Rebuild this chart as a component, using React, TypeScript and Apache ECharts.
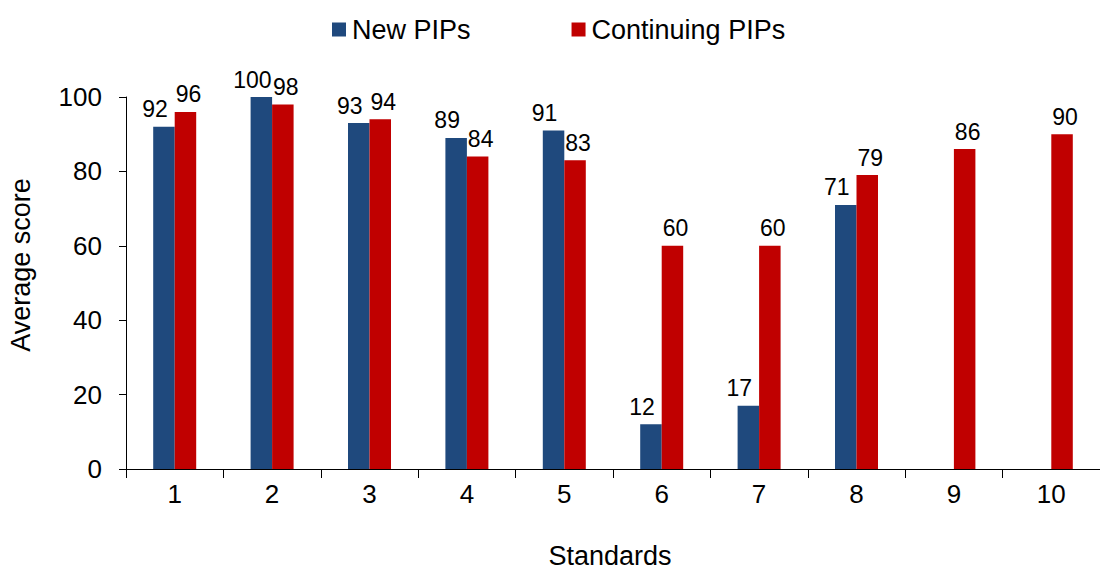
import React, { useEffect, useRef } from "react";
import * as echarts from "echarts";

const categories = ["1", "2", "3", "4", "5", "6", "7", "8", "9", "10"];
const newPIPs: (number | null)[] = [92, 100, 93, 89, 91, 12, 17, 71, null, null];
const continuingPIPs: number[] = [96, 98, 94, 84, 83, 60, 60, 79, 86, 90];
const yTicks = { min: 0, max: 100, interval: 20 };

const FONT = "'Liberation Sans', Arial, sans-serif";

export default function App() {
  const ref = useRef<HTMLDivElement>(null);
  useEffect(() => {
    if (!ref.current) return;
    const chart = echarts.init(ref.current, null, { renderer: "svg" });
    chart.setOption({
      animation: false,
      backgroundColor: "#ffffff",
      textStyle: { fontFamily: FONT },
      legend: {
        left: 327,
        top: 11,
        itemWidth: 14,
        itemHeight: 14,
        itemGap: 101,
        icon: "rect",
        textStyle: { fontSize: 27, color: "#000", fontFamily: FONT, padding: [0, 0, 0, 1] },
        data: ["New PIPs", "Continuing PIPs"],
      },
      grid: { left: 126, right: -8, top: 97, bottom: 103, containLabel: false },
      xAxis: {
        type: "category",
        data: categories,
        axisLine: { lineStyle: { color: "#000", width: 1 } },
        axisTick: { show: true, length: 9, lineStyle: { color: "#000" } },
        axisLabel: { fontSize: 26, color: "#000", margin: 12, fontFamily: FONT },
        splitLine: { show: false },
      },
      yAxis: {
        type: "value",
        min: yTicks.min,
        max: yTicks.max,
        interval: yTicks.interval,
        axisLine: { show: true, lineStyle: { color: "#000", width: 1 } },
        axisTick: { show: true, length: 7, lineStyle: { color: "#000" } },
        axisLabel: { fontSize: 26, color: "#000", margin: 24, fontFamily: FONT },
        splitLine: { show: false },
      },
      graphic: [
        {
          type: "text",
          x: 21,
          y: 265,
          rotation: Math.PI / 2,
          style: {
            text: "Average score",
            font: `27px ${FONT}`,
            fill: "#000",
            align: "center",
            verticalAlign: "middle",
          },
        },
        {
          type: "text",
          x: 610,
          y: 556,
          style: {
            text: "Standards",
            font: `27px ${FONT}`,
            fill: "#000",
            align: "center",
            verticalAlign: "middle",
          },
        },
      ],
      series: [
        {
          name: "New PIPs",
          type: "bar",
          data: newPIPs,
          barWidth: 21.5,
          barGap: "0%",
          itemStyle: { color: "#1F497D" },
          label: {
            show: true,
            position: "top",
            distance: 6,
            offset: [-9, 0],
            fontSize: 23,
            color: "#000",
            fontFamily: FONT,
          },
        },
        {
          name: "Continuing PIPs",
          type: "bar",
          data: continuingPIPs,
          barWidth: 21.5,
          barGap: "0%",
          itemStyle: { color: "#C00000" },
          label: {
            show: true,
            position: "top",
            distance: 6,
            offset: [3, 0],
            fontSize: 23,
            color: "#000",
            fontFamily: FONT,
          },
        },
      ],
    });
    return () => chart.dispose();
  }, []);
  return (
    <div
      ref={ref}
      style={{ position: "fixed", left: 0, top: 0, width: 1100, height: 572, background: "#fff" }}
    />
  );
}
